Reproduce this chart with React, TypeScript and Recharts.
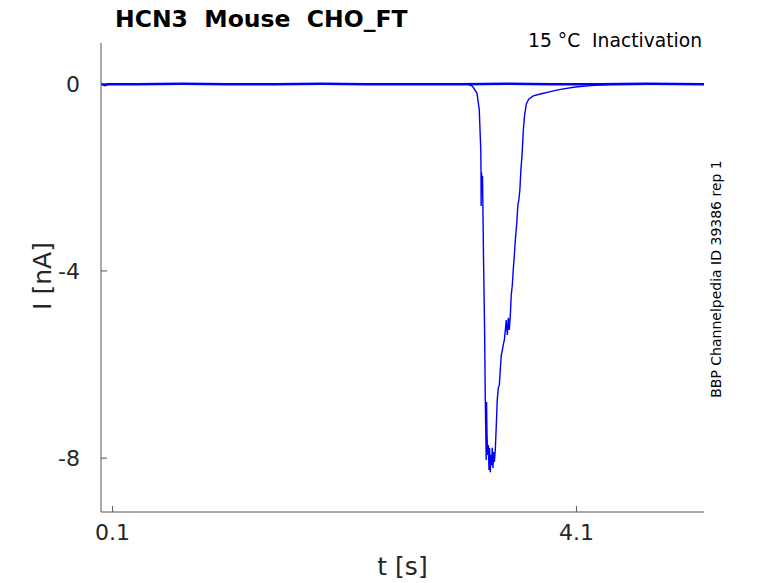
import { LineChart, Line, XAxis, YAxis } from 'recharts';

// sweep that stays at the holding current
const flatTime = [0, 0.03, 0.06, 0.3, 0.7, 1.1, 1.5, 1.9, 2.3, 2.7, 3.1, 3.5, 3.9, 4.3, 4.7, 5.2];
const flatCurrent = [0, -0.03, -0.01, -0.01, 0, -0.01, -0.01, 0, -0.01, -0.01, -0.01, 0, -0.01, -0.01, 0, -0.01];

// sweep with the inward tail current
const dipTime = [
    0, 1.0, 2.0, 3.0, 3.158, 3.202, 3.242, 3.262, 3.275, 3.277, 3.278, 3.281, 3.286, 3.29,
    3.299, 3.308, 3.314, 3.32, 3.322, 3.325, 3.328, 3.334, 3.34, 3.346, 3.351, 3.357, 3.363,
    3.368, 3.374, 3.38, 3.386, 3.392, 3.4, 3.409, 3.417, 3.426, 3.435, 3.443, 3.452, 3.461,
    3.469, 3.478, 3.487, 3.495, 3.504, 3.513, 3.521, 3.53, 3.538, 3.547, 3.556, 3.564, 3.573,
    3.586, 3.595, 3.603, 3.612, 3.621, 3.631, 3.642, 3.653, 3.668, 3.688, 3.728, 3.789, 3.875,
    3.962, 4.091, 4.221, 4.394, 4.8, 5.2,
];
const dipCurrent = [
    0, -0.01, -0.01, -0.01, -0.01, -0.05, -0.2, -0.56, -1.42, -1.84, -2.61, -1.89, -2.1, -1.97,
    -3.77, -5.26, -6.76, -7.72, -8.04, -6.8, -7.4, -7.93, -7.72, -8.25, -7.78, -8.3, -7.93,
    -8.15, -7.78, -8.21, -7.87, -8.08, -7.83, -7.29, -6.76, -6.5, -6.44, -6.12, -5.8, -5.69,
    -5.58, -5.48, -5.26, -5.05, -5.37, -5.0, -5.26, -4.94, -4.51, -4.3, -3.94, -3.68, -3.34,
    -2.96, -2.59, -2.49, -2.27, -1.84, -1.52, -0.99, -0.67, -0.43, -0.33, -0.26, -0.22, -0.17,
    -0.12, -0.07, -0.04, -0.02, -0.01, -0.01,
];

const xTicks = [0.1, 4.1];
const yTicks = [-8, -4, 0];

const flatData = flatTime.map((t, i) => ({ t, i: flatCurrent[i] }));
const dipData = dipTime.map((t, i) => ({ t, i: dipCurrent[i] }));

const font = '"DejaVu Sans", sans-serif';
const tickStyle = { fontSize: 22, fill: '#262626', fontFamily: font };

export default function App() {
    return (
        <div style={{ position: 'absolute', left: 0, top: 0, width: 778, height: 583 }}>
            <LineChart width={778} height={583} margin={{ top: 43, right: 74, bottom: 31, left: 41 }}>
                <XAxis
                    type="number"
                    dataKey="t"
                    domain={[0, 5.2]}
                    ticks={xTicks}
                    allowDataOverflow
                    height={40}
                    stroke="#555"
                    tickSize={-6}
                    tickMargin={18}
                    tick={tickStyle}
                    tickFormatter={(v: number) => v.toFixed(1)}
                />
                <YAxis
                    type="number"
                    domain={[-9.15, 0.87]}
                    ticks={yTicks}
                    allowDataOverflow
                    width={60}
                    stroke="#555"
                    tickSize={-6}
                    tickMargin={27}
                    tick={tickStyle}
                />
                <Line data={flatData} dataKey="i" stroke="#0000ff" strokeWidth={2.6} dot={false} isAnimationActive={false} />
                <Line data={dipData} dataKey="i" stroke="#0000ff" strokeWidth={1.4} dot={false} isAnimationActive={false} />
            </LineChart>
            <svg width={778} height={583} style={{ position: 'absolute', left: 0, top: 0, pointerEvents: 'none' }}>
                <text x={115} y={27} fontFamily={font} fontWeight="bold" fontSize={23.5} fill="#000" style={{ whiteSpace: 'pre' }}>
                    HCN3  Mouse  CHO_FT
                </text>
                <text x={702} y={47} textAnchor="end" fontFamily={font} fontSize={18.7} fill="#000" style={{ whiteSpace: 'pre' }}>
                    15 °C  Inactivation
                </text>
                <text transform="translate(721,279) rotate(-90)" textAnchor="middle" fontFamily={font} fontSize={14} fill="#000">
                    BBP Channelpedia ID 39386 rep 1
                </text>
                <text transform="translate(51,276) rotate(-90)" textAnchor="middle" fontFamily={font} fontSize={25} fill="#262626">
                    I [nA]
                </text>
                <text x={402.5} y={575} textAnchor="middle" fontFamily={font} fontSize={25} fill="#262626">
                    t [s]
                </text>
            </svg>
        </div>
    );
}
